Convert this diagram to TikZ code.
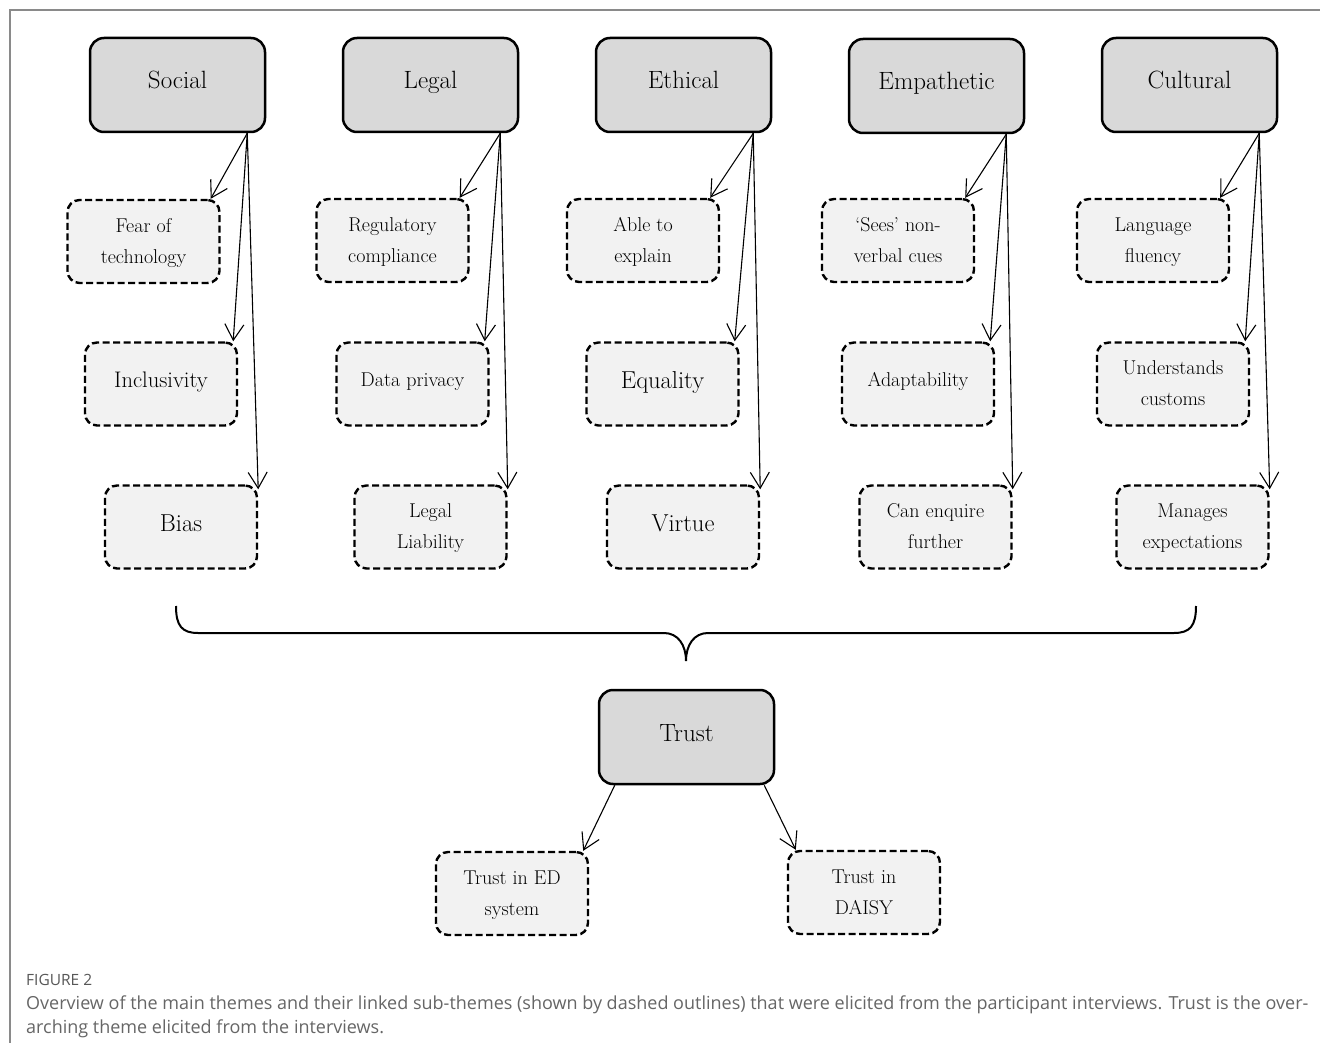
\documentclass[tikz,border=0pt]{standalone}
\usepackage{fontspec}
\newfontfamily\capfont{Open Sans}
\usetikzlibrary{arrows.meta}
\definecolor{themegray}{HTML}{D9D9D9}
\definecolor{subgray}{HTML}{F2F2F2}
\definecolor{framegray}{HTML}{8A8A8A}
\definecolor{capgray}{HTML}{666666}
\tikzset{
 theme/.style={draw, line width=2.5pt, rounded corners=14pt, fill=themegray, minimum width=175pt, minimum height=94pt, inner sep=0pt, font=\fontsize{25}{30}\selectfont, text height=17pt, text depth=9pt},
 sub/.style={draw, line width=2.4pt, dash pattern=on 7pt off 3.5pt, rounded corners=12pt, fill=subgray, minimum width=152pt, minimum height=83pt, inner sep=0pt, align=center, font=\fontsize{20}{31}\selectfont, text height=46pt, text depth=3pt},
 one/.style={text height=15pt, text depth=11pt},
 big/.style={font=\fontsize{24.5}{28}\selectfont, text height=17pt, text depth=8pt},
 mid/.style={font=\fontsize{22.5}{26}\selectfont, text height=16pt, text depth=8.6pt},
 link/.style={line width=1.1pt, -{Straight Barb[length=16pt,width=19pt]}},
 captext/.style={anchor=base west, inner sep=0pt, text=capgray, font=\capfont\fontsize{18}{22}\selectfont}
}
\begin{document}
\begin{tikzpicture}[x=1pt,y=-1pt]
\useasboundingbox (0,0) rectangle (1320,1043);
\fill[white] (0,0) rectangle (1320,1043);
\draw[framegray, line width=1.5pt] (10,1043) -- (10,10) -- (1320,10);

% main themes
\node[theme] (social) at (177.5,85) {Social};
\node[theme] (legal) at (430.5,85) {Legal};
\node[theme] (ethical) at (683.5,85) {Ethical};
\node[theme] (empath) at (936.5,86) {Empathetic};
\node[theme] (cultural) at (1189.5,85) {Cultural};

% column 1
\node[sub] (fear) at (143.5,241.5) {Fear of\\technology};
\node[sub,mid] (incl) at (161,384) {Inclusivity};
\node[sub,big] (bias) at (181,527) {Bias};
% column 2
\node[sub] (reg) at (392.5,240.5) {Regulatory\\compliance};
\node[sub,one] (priv) at (412.5,384) {Data privacy};
\node[sub] (liab) at (430.5,527) {Legal\\Liability};
% column 3
\node[sub] (able) at (643,240.5) {Able to\\explain};
\node[sub,big] (equal) at (662.5,384) {Equality};
\node[sub,big] (virtue) at (683,527) {Virtue};
% column 4
\node[sub] (sees) at (898,240.5) {`Sees' non-\\verbal cues};
\node[sub,one] (adapt) at (918,384) {Adaptability};
\node[sub] (enq) at (935.5,527) {Can enquire\\further};
% column 5
\node[sub] (lang) at (1153,240.5) {Language\\fluency};
\node[sub] (cust) at (1173,384) {Understands\\customs};
\node[sub] (manage) at (1192.5,527) {Manages\\expectations};

% arrows
\foreach \m/\a/\b/\c in {social/fear/incl/bias, legal/reg/priv/liab, ethical/able/equal/virtue, empath/sees/adapt/enq, cultural/lang/cust/manage}{
 \draw[link] ([xshift=-19pt]\m.south east) -- ([xshift=-10pt]\a.north east);
 \draw[link] ([xshift=-19pt]\m.south east) -- ([xshift=-5pt]\b.north east);
 \draw[link] ([xshift=-19pt]\m.south east) -- ([yshift=-5pt]\c.north east);
}

% brace
\draw[line width=2pt] (176,606) .. controls (176,626) and (182,633) .. (198,633) -- (664,633)
  .. controls (678,633) and (686,645) .. (686,661)
  .. controls (686,645) and (694,633) .. (708,633) -- (1174,633)
  .. controls (1190,633) and (1196,626) .. (1196,606);

% trust
\node[theme] (trust) at (686.5,737) {Trust};
\node[sub] (ed) at (512,893.5) {Trust in ED\\system};
\node[sub] (daisy) at (864,892.5) {Trust in\\DAISY};
\draw[link] ([xshift=17pt]trust.south west) -- ([xshift=-6pt]ed.north east);
\draw[link] ([xshift=-11pt]trust.south east) -- ([xshift=9pt]daisy.north west);

% caption
\node[captext, font=\capfont\fontsize{15.5}{18}\selectfont, text=capgray!85!black] (figlab) at (26,985) {FIGURE 2};
\node[captext] (cap1) at (26,1009) {Overview of the main themes and their linked sub-themes (shown by dashed outlines) that were elicited from the participant interviews. Trust is the over-};
\node[captext] (cap2) at (26,1033) {arching theme elicited from the interviews.};
\end{tikzpicture}
\end{document}
